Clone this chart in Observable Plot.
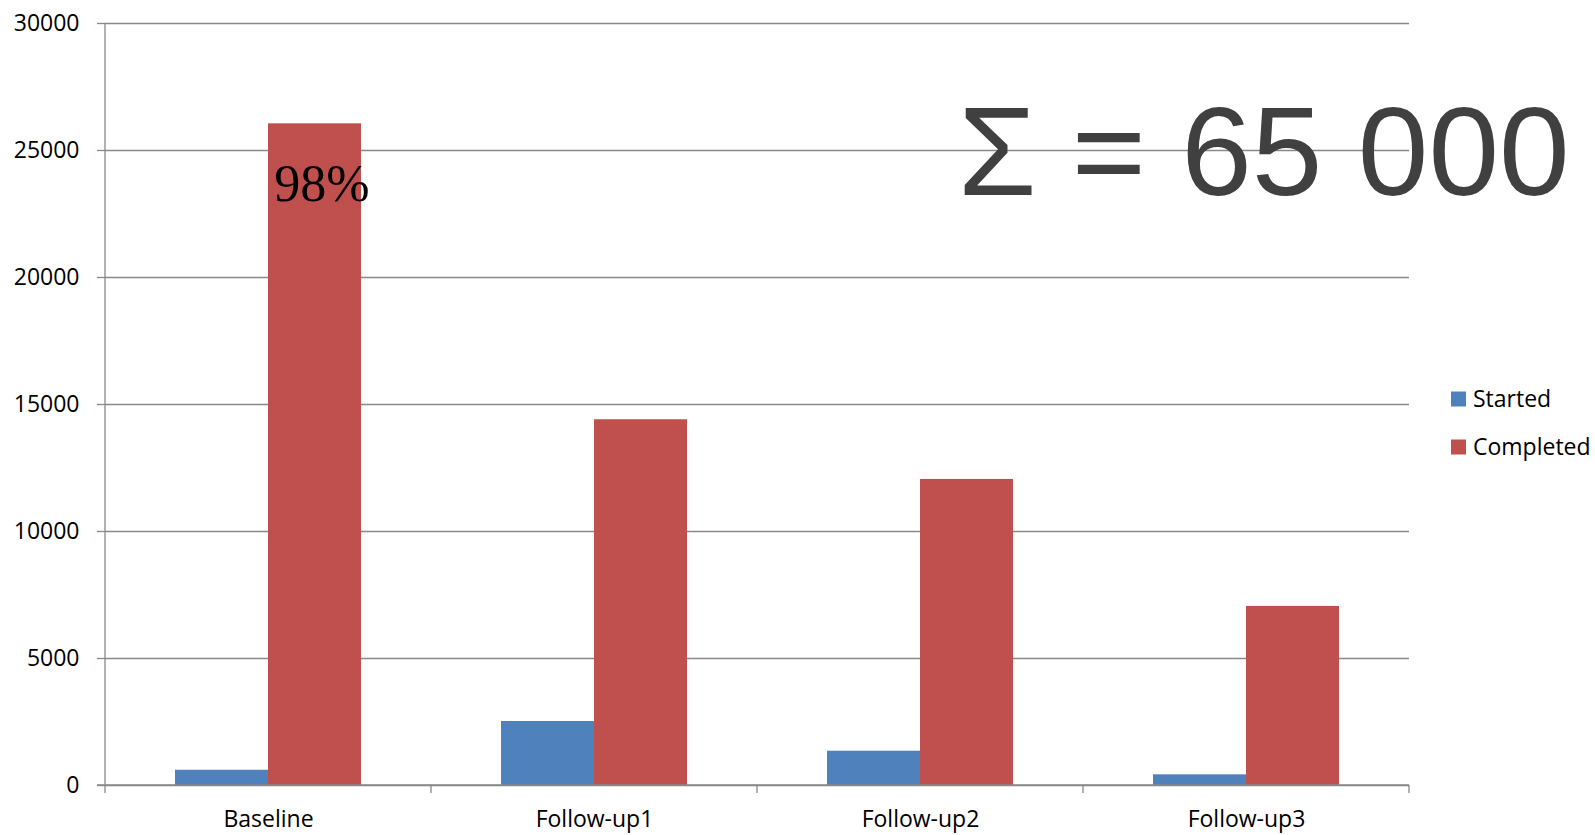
<!DOCTYPE html>
<html>
<head>
<meta charset="utf-8">
<script src="https://cdn.jsdelivr.net/npm/d3@7"></script>
<script src="https://cdn.jsdelivr.net/npm/@observablehq/plot@0.6"></script>
<style>
  html, body { margin: 0; padding: 0; background: #fff; }
  #chart { position: relative; width: 1595px; height: 835px; }
</style>
</head>
<body>
<div id="chart"></div>
<script>
const categories = ["Baseline", "Follow-up1", "Follow-up2", "Follow-up3"];
const series = ["Started", "Completed"];
const started = [600, 2520, 1350, 420];
const completed = [26050, 14400, 12050, 7050];
const yTicks = [0, 5000, 10000, 15000, 20000, 25000, 30000];
const colors = ["#4F81BD", "#C0504D"];
const barLabel = { category: "Baseline", series: "Completed", text: "98%" };
const totalText = "\u03A3 = 65 000";

const data = categories.flatMap((c, i) => [
  { category: c, series: "Started", value: started[i] },
  { category: c, series: "Completed", value: completed[i] }
]);
const labelData = data
  .filter(d => d.category === barLabel.category && d.series === barLabel.series)
  .map(d => ({ ...d, text: barLabel.text }));

const gridColor = "#888888";

const chart = Plot.plot({
  width: 1595,
  height: 835,
  marginLeft: 105,
  marginRight: 186,
  marginTop: 23,
  marginBottom: 50,
  style: { fontFamily: "'Open Sans', sans-serif", fontSize: "23px", background: "#fff", color: "#000" },
  fx: { domain: categories, padding: 0, label: null },
  x: { domain: series, paddingInner: 0, paddingOuter: 0.74, axis: null },
  y: { domain: [0, 30000], label: null },
  color: { domain: series, range: colors },
  marks: [
    Plot.gridY(yTicks, { stroke: gridColor, strokeOpacity: 1, strokeWidth: 1.3 }),
    Plot.barY(data, { fx: "category", x: "series", y: "value", fill: "series", inset: 0 }),
    Plot.text(labelData, {
      fx: "category", x: "series", y: "value", text: "text",
      dx: 7, dy: 77, lineAnchor: "bottom", textAnchor: "middle",
      fontFamily: "'Liberation Serif', 'Times New Roman', serif", fontSize: 52, fill: "#000"
    }),
    Plot.axisY(yTicks, {
      tickSize: 8, tickPadding: 18, stroke: gridColor, strokeWidth: 1.3,
      fill: "#000", fontSize: 23, tickFormat: d3.format("d"), label: null
    }),
    Plot.axisFx({ anchor: "bottom", tickSize: 0, tickPadding: 25, fontSize: 23, fill: "#000", label: null })
  ]
});

document.getElementById("chart").appendChild(chart);

// Axis lines and category boundary ticks, positioned through the chart's own scales
const svg = d3.select(chart);
const fx = chart.scale("fx");
const y = chart.scale("y");
const y0 = y.apply(0);
const yTop = y.apply(30000);
const starts = categories.map(c => fx.apply(c));
const bounds = [...starts, starts[starts.length - 1] + fx.bandwidth];
const g = svg.append("g").attr("stroke", gridColor).attr("stroke-width", 1.3);
g.append("line").attr("x1", bounds[0]).attr("x2", bounds[0]).attr("y1", yTop).attr("y2", y0);
g.append("line").attr("x1", bounds[0] - 8).attr("x2", bounds[bounds.length - 1]).attr("y1", y0).attr("y2", y0);
bounds.forEach(b => {
  g.append("line").attr("x1", b).attr("x2", b).attr("y1", y0).attr("y2", y0 + 8);
});

// Legend
const legend = svg.append("g")
  .attr("font-family", "'Open Sans', sans-serif")
  .attr("font-size", 23)
  .attr("text-anchor", "start");
series.forEach((s, i) => {
  const cy = 399 + i * 48;
  legend.append("rect").attr("x", 1451).attr("y", cy - 7.5).attr("width", 15).attr("height", 15).attr("fill", colors[i]);
  legend.append("text").attr("x", 1473).attr("y", cy + 8).attr("fill", "#000").attr("text-anchor", "start").text(s);
});

// Total annotation
svg.append("text")
  .attr("x", 958).attr("y", 195)
  .attr("text-anchor", "start")
  .attr("font-family", "'Liberation Sans', Arial, sans-serif")
  .attr("font-size", 127)
  .attr("fill", "#404040")
  .text(totalText);
</script>
</body>
</html>
